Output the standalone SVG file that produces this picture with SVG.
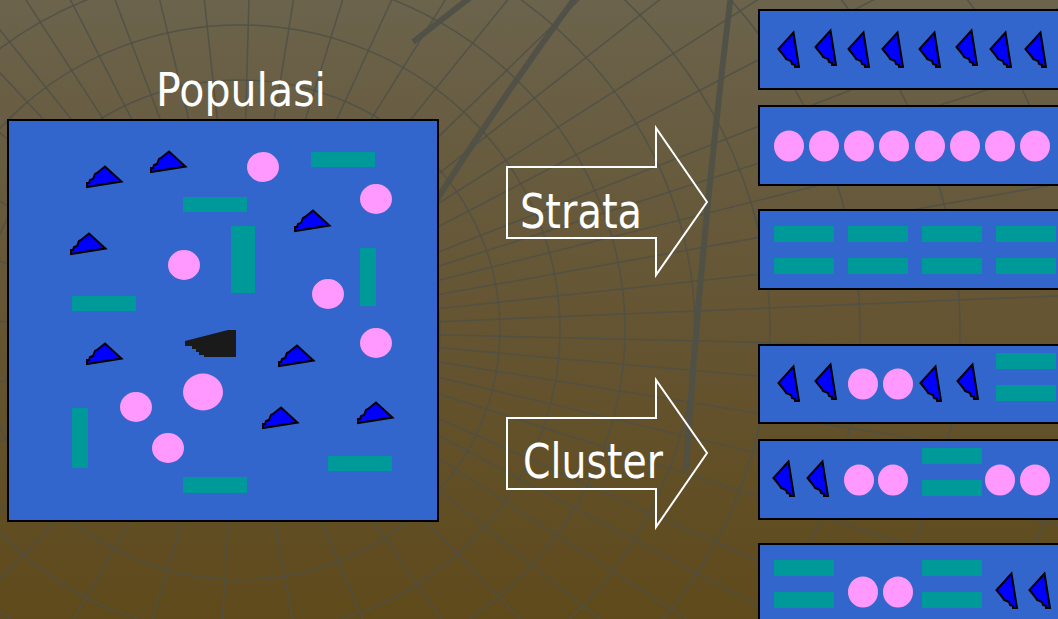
<svg xmlns="http://www.w3.org/2000/svg" xmlns:xlink="http://www.w3.org/1999/xlink" width="1058" height="619" viewBox="0 0 1058 619">
  <defs>
    <linearGradient id="bg" x1="0" y1="0" x2="0" y2="1">
      <stop offset="0" stop-color="#6b634c"/>
      <stop offset="0.5" stop-color="#655533"/>
      <stop offset="1" stop-color="#5f4a1b"/>
    </linearGradient>
    <!-- stepped wedge, anchored at its bottom-left corner -->
    <polygon id="tri" points="0,0 0,-4 2,-4 3,-7 6,-8 8,-13 10,-14 18,-20.5 34.5,-5.5"/>
    <ellipse id="dot" rx="15" ry="15.5"/>
    <rect id="bar" width="60" height="16"/>
  </defs>
  <style>
    .grid { fill: none; stroke: #4f5047; stroke-width: 1.5; opacity: 0.85; }
    .heavy { fill: none; stroke: #4f5047; stroke-width: 6; opacity: 0.9; }
    .panel { fill: #3366cc; stroke: #000; stroke-width: 2; }
    .tri { fill: #0000ff; stroke: #000; stroke-width: 2; stroke-linejoin: miter; }
    .dot { fill: #ff99ff; }
    .bar { fill: #009999; }
    .arrow { fill: none; stroke: #fff; stroke-width: 2; }
    .label { fill: #fff; font-family: "DejaVu Sans", "Liberation Sans", sans-serif; }
  </style>

  <!-- background -->
  <rect width="1058" height="619" fill="url(#bg)"/>
  <g id="mesh">
    <ellipse class="grid" cx="240" cy="330" rx="80" ry="75"/>
    <ellipse class="grid" cx="240" cy="330" rx="140" ry="130"/>
    <ellipse class="grid" cx="240" cy="330" rx="200" ry="190"/>
    <ellipse class="grid" cx="240" cy="330" rx="260" ry="250"/>
    <ellipse class="grid" cx="240" cy="330" rx="320" ry="305"/>
    <ellipse class="grid" cx="240" cy="330" rx="385" ry="360"/>
    <ellipse class="grid" cx="240" cy="330" rx="455" ry="420"/>
    <ellipse class="grid" cx="240" cy="330" rx="530" ry="480"/>
    <ellipse class="grid" cx="240" cy="330" rx="620" ry="540"/>
    <ellipse class="grid" cx="240" cy="330" rx="720" ry="600"/>
    <ellipse class="grid" cx="240" cy="330" rx="840" ry="660"/>
    <path class="grid" d="M240,330 L-40,-20 M240,330 L0,-40 M240,330 L50,-40 M240,330 L100,-40 M240,330 L150,-40 M240,330 L200,-40 M240,330 L250,-40 M240,330 L300,-40 M240,330 L355,-40 M240,330 L410,-40 M240,330 L470,-40 M240,330 L540,-40 M240,330 L620,-40 M240,330 L710,-40 M240,330 L820,-40 M240,330 L950,-40 M240,330 L1080,0 M240,330 L1080,60 M240,330 L1080,120 M240,330 L1080,180 M240,330 L1080,240 M240,330 L1080,295 M240,330 L1080,350 M240,330 L1080,405 M240,330 L1080,465 M240,330 L1080,530 M240,330 L1080,600 M240,330 L980,660 M240,330 L860,660 M240,330 L750,660 M240,330 L650,660 M240,330 L560,660 M240,330 L470,660 M240,330 L380,660 M240,330 L300,660 M240,330 L220,660 M240,330 L140,660 M240,330 L50,660 M240,330 L-40,620 M240,330 L-40,540 M240,330 L-40,460 M240,330 L-40,390 M240,330 L-40,320 M240,330 L-40,250 M240,330 L-40,180 M240,330 L-40,100 M240,330 L-40,30"/>
    <path class="heavy" d="M472,-4 L413,42"/>
    <path class="heavy" d="M578,-6 Q500,100 430,210"/>
    <path class="heavy" d="M731,-6 Q700,250 686,470"/>
  </g>

  <!-- population -->
  <g id="populasi">
    <text class="label" x="241" y="106" font-size="46" text-anchor="middle" textLength="170" lengthAdjust="spacingAndGlyphs">Populasi</text>
    <rect class="panel" x="8" y="120" width="430" height="401"/>
    <g class="bar">
      <rect x="311" y="152" width="64" height="15"/>
      <rect x="183" y="197" width="64" height="15"/>
      <rect x="231" y="226" width="24" height="67"/>
      <rect x="360" y="248" width="16" height="58"/>
      <rect x="72" y="296" width="64" height="15"/>
      <rect x="72" y="408" width="16" height="60"/>
      <rect x="183" y="477" width="64" height="16"/>
      <rect x="328" y="456" width="64" height="15"/>
    </g>
    <g class="dot">
      <ellipse cx="263" cy="167" rx="16" ry="15"/>
      <ellipse cx="376" cy="199" rx="16" ry="15"/>
      <ellipse cx="184" cy="265" rx="16" ry="15"/>
      <ellipse cx="328" cy="294" rx="16" ry="15"/>
      <ellipse cx="376" cy="343" rx="16" ry="15"/>
      <ellipse cx="203" cy="392" rx="20" ry="18.5"/>
      <ellipse cx="136" cy="407" rx="16" ry="15"/>
      <ellipse cx="168" cy="448" rx="16" ry="15"/>
    </g>
    <g class="tri">
      <use xlink:href="#tri" x="87" y="187"/>
      <use xlink:href="#tri" x="151" y="172"/>
      <use xlink:href="#tri" x="295" y="231"/>
      <use xlink:href="#tri" x="71" y="254"/>
      <use xlink:href="#tri" x="87" y="364"/>
      <use xlink:href="#tri" x="279" y="366"/>
      <use xlink:href="#tri" x="263" y="428"/>
      <use xlink:href="#tri" x="358" y="423"/>
    </g>
    <polygon fill="#1a1a1a" points="185,341 228,330 236,330 236,357 204,357 204,355 199,355 199,352 196,352 196,349 192,349 192,346 185,346"/>
  </g>

  <!-- arrows -->
  <g id="connectors">
    <g id="strata-arrow">
      <polygon class="arrow" points="507,167 656,167 656,128 707,202 656,275 656,238 507,238"/>
      <text class="label" x="520" y="228" font-size="48" textLength="122" lengthAdjust="spacingAndGlyphs">Strata</text>
    </g>
    <g id="cluster-arrow">
      <polygon class="arrow" points="507,418 656,418 656,380 707,453 656,527 656,489 507,489"/>
      <text class="label" x="523" y="478" font-size="48" textLength="140" lengthAdjust="spacingAndGlyphs">Cluster</text>
    </g>
  </g>

  <!-- stratum 1: wedges -->
  <g id="stratum-1">
    <rect class="panel" x="759" y="10" width="320" height="79"/>
    <g class="tri">
      <use xlink:href="#tri" transform="translate(799,67) rotate(-90)"/>
      <use xlink:href="#tri" transform="translate(836,65) rotate(-90)"/>
      <use xlink:href="#tri" transform="translate(869,67) rotate(-90)"/>
      <use xlink:href="#tri" transform="translate(903,67) rotate(-90)"/>
      <use xlink:href="#tri" transform="translate(940,67) rotate(-90)"/>
      <use xlink:href="#tri" transform="translate(977,65) rotate(-90)"/>
      <use xlink:href="#tri" transform="translate(1011,67) rotate(-90)"/>
      <use xlink:href="#tri" transform="translate(1046,67) rotate(-90)"/>
    </g>
  </g>

  <!-- stratum 2: dots -->
  <g id="stratum-2">
    <rect class="panel" x="759" y="106" width="320" height="79"/>
    <g class="dot">
      <use xlink:href="#dot" x="789" y="146"/>
      <use xlink:href="#dot" x="824" y="146"/>
      <use xlink:href="#dot" x="859" y="146"/>
      <use xlink:href="#dot" x="894" y="146"/>
      <use xlink:href="#dot" x="930" y="146"/>
      <use xlink:href="#dot" x="965" y="146"/>
      <use xlink:href="#dot" x="1000" y="146"/>
      <use xlink:href="#dot" x="1035" y="146"/>
    </g>
  </g>

  <!-- stratum 3: bars -->
  <g id="stratum-3">
    <rect class="panel" x="759" y="210" width="320" height="79"/>
    <g class="bar">
      <use xlink:href="#bar" x="774" y="226"/>
      <use xlink:href="#bar" x="848" y="226"/>
      <use xlink:href="#bar" x="922" y="226"/>
      <use xlink:href="#bar" x="996" y="226"/>
      <use xlink:href="#bar" x="774" y="258"/>
      <use xlink:href="#bar" x="848" y="258"/>
      <use xlink:href="#bar" x="922" y="258"/>
      <use xlink:href="#bar" x="996" y="258"/>
    </g>
  </g>

  <!-- cluster 1 -->
  <g id="cluster-1">
    <rect class="panel" x="759" y="345" width="320" height="78"/>
    <g class="tri">
      <use xlink:href="#tri" transform="translate(799,401) rotate(-90)"/>
      <use xlink:href="#tri" transform="translate(836,399) rotate(-90)"/>
      <use xlink:href="#tri" transform="translate(941,401) rotate(-90)"/>
      <use xlink:href="#tri" transform="translate(978,399) rotate(-90)"/>
    </g>
    <g class="dot">
      <use xlink:href="#dot" x="863" y="384"/>
      <use xlink:href="#dot" x="898" y="384"/>
    </g>
    <g class="bar">
      <use xlink:href="#bar" x="996" y="353"/>
      <use xlink:href="#bar" x="996" y="385"/>
    </g>
  </g>

  <!-- cluster 2 -->
  <g id="cluster-2">
    <rect class="panel" x="759" y="440" width="320" height="79"/>
    <g class="tri">
      <use xlink:href="#tri" transform="translate(794,496) rotate(-90)"/>
      <use xlink:href="#tri" transform="translate(828,496) rotate(-90)"/>
    </g>
    <g class="dot">
      <use xlink:href="#dot" x="859" y="480"/>
      <use xlink:href="#dot" x="893" y="480"/>
      <use xlink:href="#dot" x="1000" y="480"/>
      <use xlink:href="#dot" x="1035" y="480"/>
    </g>
    <g class="bar">
      <use xlink:href="#bar" x="922" y="448"/>
      <use xlink:href="#bar" x="922" y="480"/>
    </g>
  </g>

  <!-- cluster 3 -->
  <g id="cluster-3">
    <rect class="panel" x="759" y="544" width="320" height="90"/>
    <g class="bar">
      <use xlink:href="#bar" x="774" y="560"/>
      <use xlink:href="#bar" x="774" y="592"/>
      <use xlink:href="#bar" x="922" y="560"/>
      <use xlink:href="#bar" x="922" y="592"/>
    </g>
    <g class="dot">
      <use xlink:href="#dot" x="863" y="592"/>
      <use xlink:href="#dot" x="898" y="592"/>
    </g>
    <g class="tri">
      <use xlink:href="#tri" transform="translate(1017,608) rotate(-90)"/>
      <use xlink:href="#tri" transform="translate(1050,608) rotate(-90)"/>
    </g>
  </g>
</svg>
